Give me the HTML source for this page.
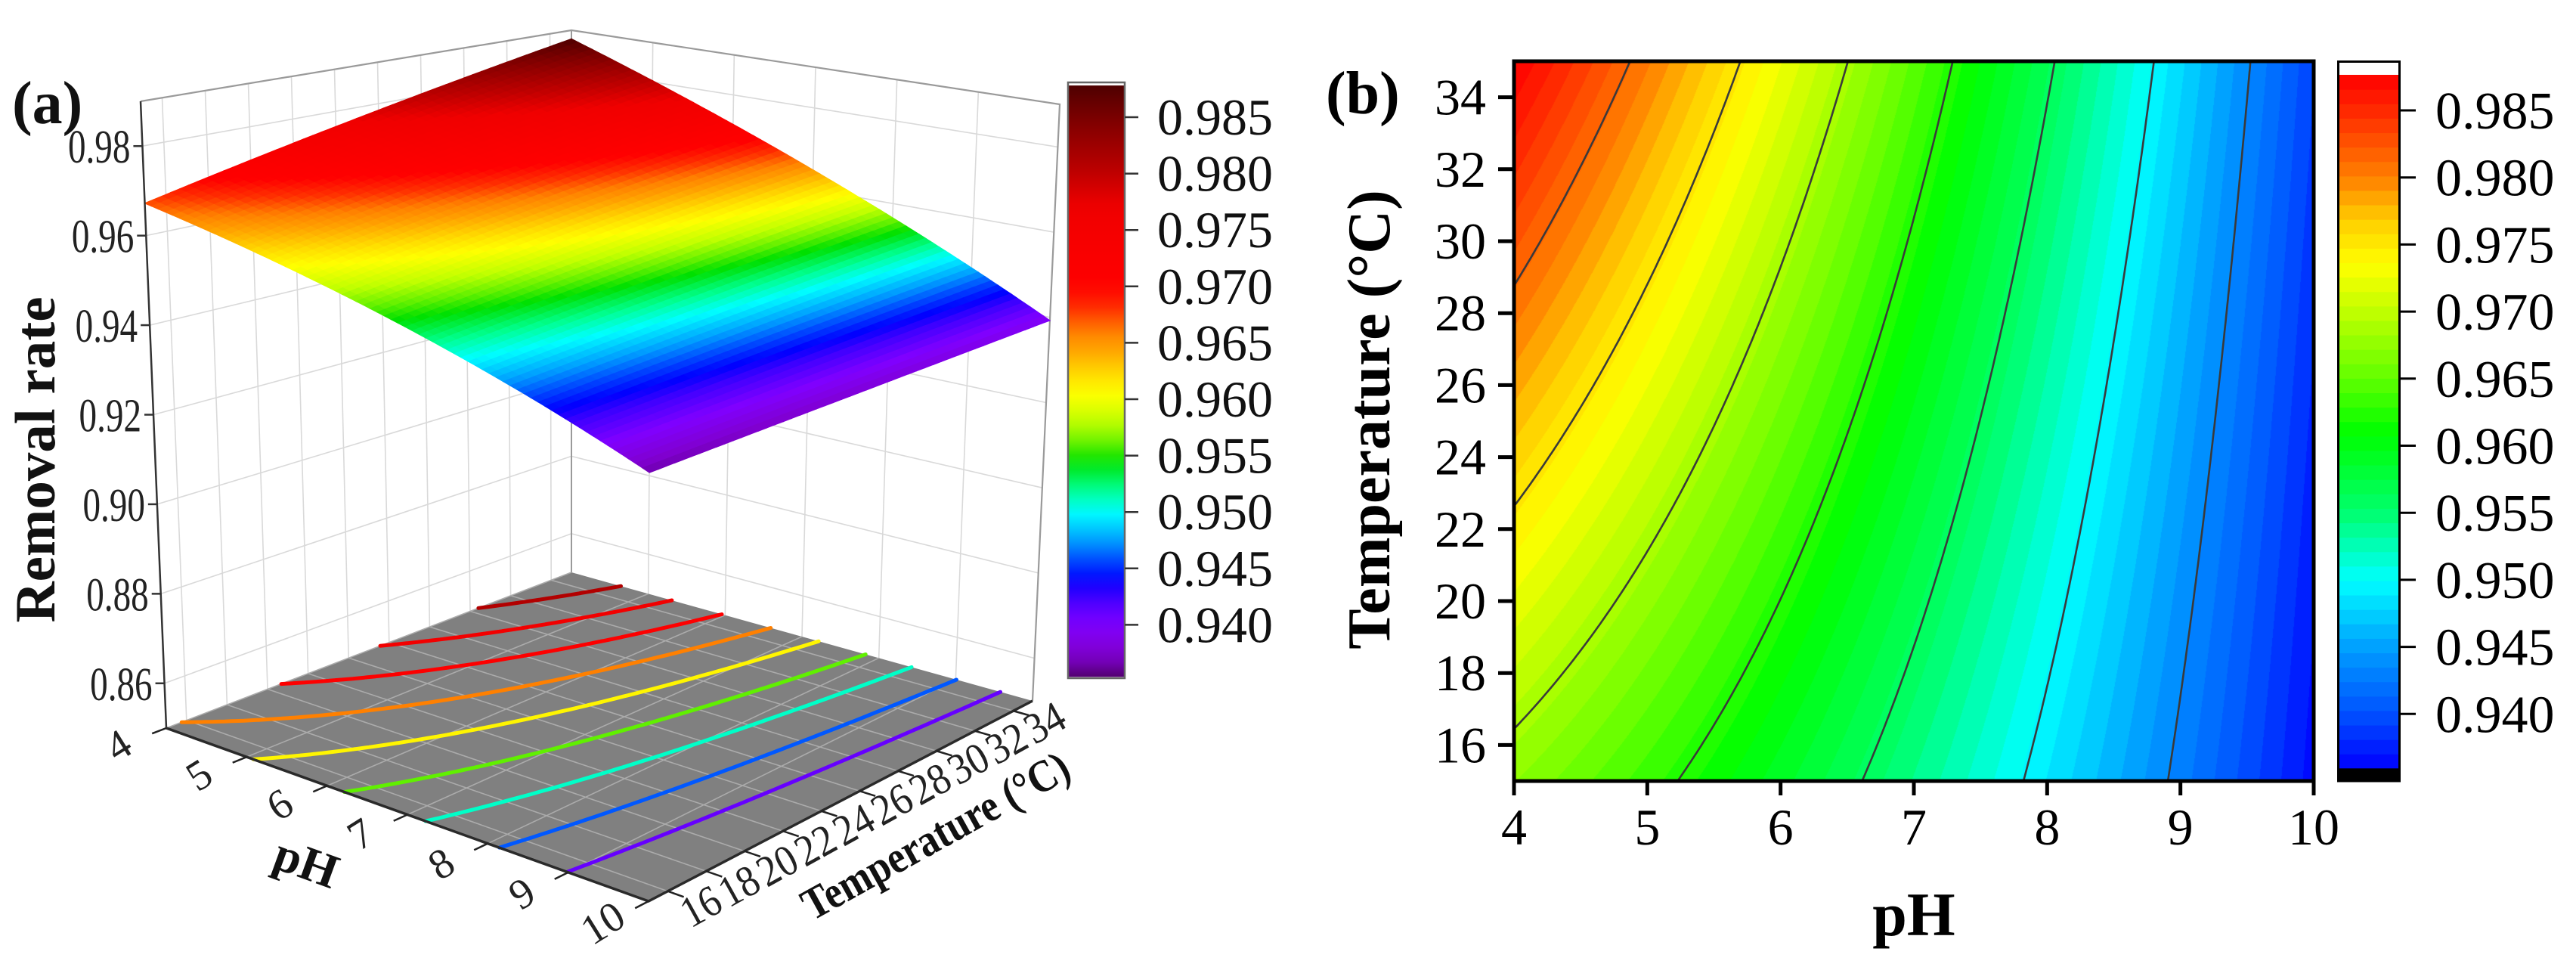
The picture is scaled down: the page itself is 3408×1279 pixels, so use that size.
<!DOCTYPE html>
<html><head><meta charset="utf-8">
<style>
html,body{margin:0;padding:0;background:#fff;}
#wrap{position:relative;width:3408px;height:1279px;overflow:hidden;}
#cv{position:absolute;left:2003px;top:81px;}
svg{position:absolute;left:0;top:0;}
text{font-family:"Liberation Serif",serif;}
</style></head>
<body>
<div id="wrap">
<canvas id="cv" width="1058" height="952"></canvas>
<svg id="sv" width="3408" height="1279" xmlns="http://www.w3.org/2000/svg" font-family="Liberation Serif, serif"></svg>
</div>
<script>
// ---- data ----
const PH = [4,5,6,7,8,9,10];
const TT = [15,20,25,30,35];
const RR15 = [0.9678,0.9633,0.9589,0.9542,0.9490,0.9434,0.9360];
const RR20 = [0.9722,0.9672,0.9621,0.9564,0.9504,0.9443,0.9370];
const RR25 = [0.9769,0.9714,0.9659,0.9599,0.9526,0.9455,0.9380];
const RR30 = [0.9830,0.9764,0.9692,0.9625,0.9546,0.9465,0.9388];
const RR35 = [0.9876,0.9803,0.9728,0.9648,0.9564,0.9474,0.9395];
const RR = [RR15,RR20,RR25,RR30,RR35];
const contourLevelsB = [0.9813,0.9750,0.9687,0.9624,0.9561,0.9498,0.9435];
const contourLevelsA = [0.983,0.978,0.973,0.968,0.963,0.958,0.953,0.948,0.943];
const cbTicks = [0.940,0.945,0.950,0.955,0.960,0.965,0.970,0.975,0.980,0.985];
const cbLabels = ["0.940","0.945","0.950","0.955","0.960","0.965","0.970","0.975","0.980","0.985"];
const zTicks = [0.86,0.88,0.90,0.92,0.94,0.96,0.98];
const zLabels = ["0.86","0.88","0.90","0.92","0.94","0.96","0.98"];
const bXTicks = [4,5,6,7,8,9,10];
const bYTicks = [16,18,20,22,24,26,28,30,32,34];
const aTTicks = [16,18,20,22,24,26,28,30,32,34];

const NS="http://www.w3.org/2000/svg";
const sv=document.getElementById('sv');
function mk(tag,attrs,parent){const e=document.createElementNS(NS,tag);for(const k in attrs)e.setAttribute(k,attrs[k]);(parent||sv).appendChild(e);return e;}

// smooth least-squares response surface fitted to the grid
function terms(ph,t){const x=(ph-7)/3,y=(t-25)/10;return [1,x,y,x*x,x*y,y*y,x*x*x,x*x*y];}
const COEF=(function(){
  const n=terms(7,25).length;const A=[];const b=[];
  for(let i=0;i<n;i++){A.push(new Array(n).fill(0));b.push(0);}
  TT.forEach((t,r)=>PH.forEach((p,c)=>{const f=terms(p,t);for(let i=0;i<n;i++){b[i]+=f[i]*RR[r][c];for(let j=0;j<n;j++)A[i][j]+=f[i]*f[j];}}));
  for(let i=0;i<n;i++){let m=i;for(let k=i+1;k<n;k++)if(Math.abs(A[k][i])>Math.abs(A[m][i]))m=k;[A[i],A[m]]=[A[m],A[i]];[b[i],b[m]]=[b[m],b[i]];
    for(let k=i+1;k<n;k++){const f=A[k][i]/A[i][i];for(let j=i;j<n;j++)A[k][j]-=f*A[i][j];b[k]-=f*b[i];}}
  const x=new Array(n).fill(0);for(let i=n-1;i>=0;i--){let s=b[i];for(let j=i+1;j<n;j++)s-=A[i][j]*x[j];x[i]=s/A[i][i];}
  return x;
})();
function val(ph,t){const f=terms(ph,t);let s=0;for(let i=0;i<f.length;i++)s+=f[i]*COEF[i];return s;}

function hex(h){return [parseInt(h.substr(1,2),16),parseInt(h.substr(3,2),16),parseInt(h.substr(5,2),16)];}
function mapper(stops){
  const s=stops.map(x=>[x[0],hex(x[1])]).sort((a,b)=>a[0]-b[0]);
  return function(v){
    if(v<=s[0][0])return s[0][1];if(v>=s[s.length-1][0])return s[s.length-1][1];
    for(let i=0;i<s.length-1;i++){if(v<=s[i+1][0]){const f=(v-s[i][0])/(s[i+1][0]-s[i][0]);return [0,1,2].map(k=>Math.round(s[i][1][k]+(s[i+1][1][k]-s[i][1][k])*f));}}
  };
}
function rgb(c){return 'rgb('+c[0]+','+c[1]+','+c[2]+')';}
const bmap=mapper([[0.9876,'#ff0000'],[0.985,'#ff2800'],[0.980,'#ff8000'],[0.9767,'#ffd000'],[0.9735,'#ffff00'],[0.970,'#c0ff00'],[0.965,'#60ff00'],[0.961,'#00ff00'],[0.955,'#00ff70'],[0.950,'#00ffff'],[0.945,'#00a0ff'],[0.940,'#0050ff'],[0.936,'#0000ff']]);
const amap=mapper([[0.9881,'#4a0000'],[0.985,'#7a0000'],[0.980,'#c00000'],[0.977,'#f00000'],[0.970,'#ff0000'],[0.968,'#ff3000'],[0.966,'#ff8000'],[0.9645,'#ffa000'],[0.962,'#ffe000'],[0.9605,'#ffff00'],[0.958,'#c0ff00'],[0.956,'#60f000'],[0.9545,'#00e000'],[0.952,'#00ff90'],[0.950,'#00ffff'],[0.9475,'#00a0ff'],[0.9455,'#0040ff'],[0.944,'#0000ff'],[0.9425,'#4000ff'],[0.940,'#8000ff'],[0.9375,'#8000d0'],[0.9355,'#600090'],[0.9352,'#400040']]);

// marching squares
function contourSegs(level,p0,p1,t0,t1,nx,ny){
  const segs=[];const g=[];
  for(let j=0;j<=ny;j++){g.push([]);for(let i=0;i<=nx;i++)g[j].push(val(p0+(p1-p0)*i/nx,t0+(t1-t0)*j/ny));}
  const P=(i,j)=>[p0+(p1-p0)*i/nx,t0+(t1-t0)*j/ny];
  for(let j=0;j<ny;j++)for(let i=0;i<nx;i++){
    const c=[[i,j],[i+1,j],[i+1,j+1],[i,j+1]];const v=c.map(q=>g[q[1]][q[0]]);const pts=[];
    for(let e=0;e<4;e++){const a=e,b=(e+1)%4;if((v[a]-level)*(v[b]-level)<0){const f=(level-v[a])/(v[b]-v[a]);const pa=P(c[a][0],c[a][1]),pb=P(c[b][0],c[b][1]);pts.push([pa[0]+(pb[0]-pa[0])*f,pa[1]+(pb[1]-pa[1])*f]);}}
    if(pts.length>=2)segs.push([pts[0],pts[1]]);if(pts.length===4)segs.push([pts[2],pts[3]]);
  }
  return segs;
}

// ===================== PANEL B =====================
const bx=ph=>2003+(ph-4)/6*1058;
const by=t=>1033-(t-15)/20*952;
const cbY=v=>146+(0.985-v)/0.005*88.7;
const vTopB=0.98765,vBotB=0.93594,NB=48,stepB=(vTopB-vBotB)/NB;
function bandColor(v){let k=Math.floor((v-vBotB)/stepB);k=Math.max(0,Math.min(NB-1,k));return bmap(vBotB+(k+0.5)*stepB);}
(function(){
  const cv=document.getElementById('cv');const ctx=cv.getContext('2d');const W=1058,H=952;
  const im=ctx.createImageData(W,H);
  for(let py=0;py<H;py++){const t=35-(py+0.5)/H*20;for(let px=0;px<W;px++){const ph=4+(px+0.5)/W*6;const c=bandColor(val(ph,t));const o=(py*W+px)*4;im.data[o]=c[0];im.data[o+1]=c[1];im.data[o+2]=c[2];im.data[o+3]=255;}}
  ctx.putImageData(im,0,0);
})();
const gB=mk('g',{});


contourLevelsB.forEach((lv,i)=>{
  const segs=contourSegs(lv,4,10,15,35,150,130);
  let d='';segs.forEach(s=>{d+='M'+bx(s[0][0]).toFixed(1)+' '+by(s[0][1]).toFixed(1)+'L'+bx(s[1][0]).toFixed(1)+' '+by(s[1][1]).toFixed(1);});
  const p=mk('path',{d:d,stroke:'#3a3a3a','stroke-width':2.6,fill:'none','stroke-linecap':'round'},gB);
  
  
});
const frame=mk('rect',{x:2003,y:81,width:1058,height:952,fill:'none',stroke:'#000','stroke-width':5},gB);


bXTicks.forEach(v=>{
  mk('line',{x1:bx(v),y1:1033,x2:bx(v),y2:1052,stroke:'#000','stroke-width':5},gB);
  const t=mk('text',{x:bx(v),y:1117,'font-size':68,'text-anchor':'middle'},gB);t.textContent=String(v);
  
  
});
bYTicks.forEach(v=>{
  mk('line',{x1:1982,y1:by(v),x2:2003,y2:by(v),stroke:'#000','stroke-width':5},gB);
  const t=mk('text',{x:1966,y:by(v)+23,'font-size':68,'text-anchor':'end'},gB);t.textContent=String(v);
  
  
});
{
const t1=mk('text',{x:2532,y:1237,'font-size':82,'font-weight':'bold','text-anchor':'middle'},gB);t1.textContent='pH';


const t2=mk('text',{x:0,y:0,'font-size':80,'font-weight':'bold','text-anchor':'middle',transform:'translate(1838,555) rotate(-90)'},gB);t2.textContent='Temperature (°C)';


const t3=mk('text',{x:1754,y:150,'font-size':80,'font-weight':'bold'},gB);t3.textContent='(b)';


}
// colorbar B
const cbB=mk('g',{});


for(let k=0;k<NB;k++){
  const v0=vBotB+k*stepB,v1=v0+stepB;const y1=cbY(v1),y0=cbY(v0);
  const r=mk('rect',{x:3092,y:y1.toFixed(2),width:84,height:(y0-y1+0.6).toFixed(2),fill:rgb(bmap((v0+v1)/2))},cbB);
  
  
}
mk('rect',{x:3092,y:cbY(vBotB),width:84,height:1034-cbY(vBotB),fill:'#000'},cbB);
mk('rect',{x:3093.5,y:81.5,width:81,height:1033-81.5,fill:'none',stroke:'#000','stroke-width':3},cbB);
cbTicks.forEach((v,i)=>{
  mk('line',{x1:3176,y1:cbY(v),x2:3196,y2:cbY(v),stroke:'#000','stroke-width':3},cbB);
  const t=mk('text',{x:3222,y:cbY(v)+24,'font-size':70},cbB);t.textContent=cbLabels[i];
  
  
});

// ===================== PANEL A =====================
const FL={L:[220,963],B:[756,757],R:[1366,927],F:[858,1192]};
const TP={L:[186,134],B:[756,40],R:[1402,138],F:[860,274]};
function bil(C,u,w){const k=[0,1].map(d=>C.L[d]*(1-u)*(1-w)+C.B[d]*(1-u)*w+C.R[d]*u*w+C.F[d]*u*(1-w));return k;}
function proj(ph,t,z){const u=(ph-4)/6,w=(t-15)/20;const b=bil(FL,u,w),tp=bil(TP,u,w);const s=(z-0.85)/0.14;return [b[0]+(tp[0]-b[0])*s,b[1]+(tp[1]-b[1])*s];}
const pt=p=>p[0].toFixed(1)+','+p[1].toFixed(1);
const gA=mk('g',{});


// walls grid
const wallG=mk('g',{stroke:'#d9d9d9','stroke-width':1.6,fill:'none'},gA);


aTTicks.forEach(t=>{mk('line',{x1:proj(4,t,0.85)[0],y1:proj(4,t,0.85)[1],x2:proj(4,t,0.99)[0],y2:proj(4,t,0.99)[1]},wallG);});
[5,6,7,8,9].forEach(p=>{mk('line',{x1:proj(p,35,0.85)[0],y1:proj(p,35,0.85)[1],x2:proj(p,35,0.99)[0],y2:proj(p,35,0.99)[1]},wallG);});
zTicks.forEach(z=>{mk('polyline',{points:pt(proj(4,15,z))+' '+pt(proj(4,35,z))+' '+pt(proj(10,35,z))},wallG);});
mk('polyline',{points:pt(proj(4,15,0.99))+' '+pt(proj(4,35,0.99))+' '+pt(proj(10,35,0.99))+' '+pt(proj(10,35,0.85)),fill:'none',stroke:'#9a9a9a','stroke-width':2.2},gA);
mk('line',{x1:proj(4,35,0.85)[0],y1:proj(4,35,0.85)[1],x2:proj(4,35,0.99)[0],y2:proj(4,35,0.99)[1],stroke:'#9a9a9a','stroke-width':2},gA);
// floor
const floor=mk('polygon',{points:[proj(4,15,.85),proj(4,35,.85),proj(10,35,.85),proj(10,15,.85)].map(pt).join(' '),fill:'#808080'},gA);


const flG=mk('g',{stroke:'#ababab','stroke-width':1.6},gA);
PH.forEach(p=>{const a=proj(p,15,.85),b=proj(p,35,.85);mk('line',{x1:a[0],y1:a[1],x2:b[0],y2:b[1]},flG);});
aTTicks.forEach(t=>{const a=proj(4,t,.85),b=proj(10,t,.85);mk('line',{x1:a[0],y1:a[1],x2:b[0],y2:b[1]},flG);});
contourLevelsA.forEach((lv,i)=>{
  const segs=contourSegs(lv,4,10,15,35,90,60);
  let d='';segs.forEach(s=>{d+='M'+pt(proj(s[0][0],s[0][1],.85))+'L'+pt(proj(s[1][0],s[1][1],.85));});
  const p=mk('path',{d:d,stroke:rgb(amap(lv-0.002)),'stroke-width':5,fill:'none','stroke-linecap':'round'},gA);
  
  
});
mk('polyline',{points:[proj(4,15,.85),proj(10,15,.85),proj(10,35,.85)].map(pt).join(' '),fill:'none',stroke:'#2a2a2a','stroke-width':3.5},gA);
// surface
const surf=mk('g',{},gA);


const NU=72,NW=48;
for(let i=0;i<NU;i++)for(let j=0;j<NW;j++){
  const p0=4+6*i/NU,p1=4+6*(i+1)/NU,t0=15+20*j/NW,t1=15+20*(j+1)/NW;
  const c=rgb(amap(val((p0+p1)/2,(t0+t1)/2)));
  mk('polygon',{points:[proj(p0,t0,val(p0,t0)),proj(p1,t0,val(p1,t0)),proj(p1,t1,val(p1,t1)),proj(p0,t1,val(p0,t1))].map(pt).join(' '),fill:c,stroke:c,'stroke-width':1.2},surf);
}
// z axis
mk('line',{x1:proj(4,15,.85)[0],y1:proj(4,15,.85)[1],x2:proj(4,15,.99)[0],y2:proj(4,15,.99)[1],stroke:'#333','stroke-width':2.5},gA);
zTicks.forEach((z,i)=>{
  const p=proj(4,15,z);
  mk('line',{x1:p[0]-12,y1:p[1],x2:p[0],y2:p[1],stroke:'#333','stroke-width':2.5},gA);
  const t=mk('text',{x:0,y:0,'font-size':62,'text-anchor':'end',fill:'#222',transform:'translate('+(p[0]-16).toFixed(1)+','+(p[1]+22).toFixed(1)+') scale(0.76,1)'},gA);t.textContent=zLabels[i];
  
  
});
PH.forEach(v=>{
  const a=proj(v,15,.85),b=proj(v,14.3,.85),c=proj(v,13,.85);
  mk('line',{x1:a[0],y1:a[1],x2:b[0],y2:b[1],stroke:'#222','stroke-width':2.5},gA);
  const t=mk('text',{x:0,y:0,'font-size':56,'text-anchor':'middle',fill:'#222',transform:'translate('+c[0].toFixed(1)+','+(c[1]+18).toFixed(1)+') rotate(-32)'},gA);t.textContent=String(v);
  
  
});
aTTicks.forEach(v=>{
  const a=proj(10,v,.85),b=proj(10.2,v,.85),c=proj(10.5,v,.85);
  mk('line',{x1:a[0],y1:a[1],x2:b[0],y2:b[1],stroke:'#222','stroke-width':2.5},gA);
  const t=mk('text',{x:0,y:0,'font-size':58,'text-anchor':'middle',fill:'#222',transform:'translate('+c[0].toFixed(1)+','+(c[1]+18).toFixed(1)+') rotate(-29) scale(0.9,1)'},gA);t.textContent=String(v);
  
  
});
{
const pp=proj(7,9.6,.85);
const t1=mk('text',{x:0,y:0,'font-size':64,'font-weight':'bold','text-anchor':'middle',fill:'#111',transform:'translate('+pp[0].toFixed(1)+','+(pp[1]+20).toFixed(1)+') rotate(20)'},gA);t1.textContent='pH';


const tp=proj(11.3,25,.85);
const t2=mk('text',{x:0,y:0,'font-size':60,'font-weight':'bold','text-anchor':'middle',fill:'#111',textLength:395,lengthAdjust:'spacingAndGlyphs',transform:'translate('+tp[0].toFixed(1)+','+(tp[1]+20).toFixed(1)+') rotate(-29)'},gA);t2.textContent='Temperature (°C)';


const t3=mk('text',{x:0,y:0,'font-size':75,'font-weight':'bold','text-anchor':'middle',fill:'#111',transform:'translate(72,608) rotate(-90)'},gA);t3.textContent='Removal rate';


const t4=mk('text',{x:16,y:163,'font-size':80,'font-weight':'bold',fill:'#111'},gA);t4.textContent='(a)';


}
// colorbar A
const cbA=mk('g',{});


const cbAY=v=>155+(0.985-v)/0.005*74.6;
const vTopA=0.98781,vBotA=0.93538;
{
const defs=mk('defs',{});const lg=mk('linearGradient',{id:'ga',x1:0,y1:0,x2:0,y2:1},defs);
for(let k=0;k<=40;k++){const v=vTopA-(vTopA-vBotA)*k/40;mk('stop',{offset:(k/40).toFixed(3),'stop-color':rgb(amap(v))},lg);}
mk('rect',{x:1413,y:109,width:75,height:788,fill:'#fff'},cbA);
const r=mk('rect',{x:1414,y:cbAY(vTopA),width:73,height:cbAY(vBotA)-cbAY(vTopA),fill:'url(#ga)'},cbA);


mk('rect',{x:1413,y:109,width:75,height:788,fill:'none',stroke:'#666','stroke-width':2.5},cbA);
}
cbTicks.forEach((v,i)=>{
  mk('line',{x1:1488,y1:cbAY(v),x2:1506,y2:cbAY(v),stroke:'#333','stroke-width':2.5},cbA);
  const t=mk('text',{x:1531,y:cbAY(v)+23,'font-size':68,fill:'#111'},cbA);t.textContent=cbLabels[i];
  
  
});
</script>
</body></html>
